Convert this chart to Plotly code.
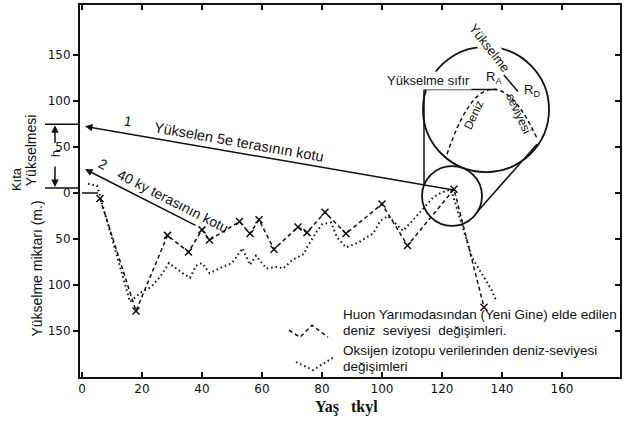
import plotly.graph_objects as go

# ---- data (age in ky, sea level / uplift in m; negative = below present) ----
huon_age = [6, 18, 28.5, 35.5, 40, 42.5, 52.5, 56, 59, 64, 72, 75, 81, 88, 100, 108.5, 124, 134]
huon_level = [-6, -128, -46, -64, -40, -51, -31, -44, -29, -61, -37, -43, -21, -44, -12, -57, 4, -124]

iso_age = [2, 5, 16, 20, 23, 26, 29, 33.5, 36, 38, 40, 42.5, 47, 50, 53.5, 56, 58, 61.5, 65, 67,
           70, 74, 75, 78, 80, 83, 85, 88, 92, 97, 99.5, 102, 104.5, 107, 111, 117, 119.5, 123,
           130, 136.5, 138]
iso_level = [10, 8, -118, -107, -102, -91, -76, -87, -92, -79, -76, -87, -80, -76, -60, -78, -68,
             -82, -80, -82, -73, -66, -59, -43, -34, -32, -48, -59, -54, -44, -30, -25, -33, -41,
             -27, -5, 0, 4, -70, -105, -116]

x_ticks = [0, 20, 40, 60, 80, 100, 120, 140, 160]
y_ticks = [-150, -100, -50, 0, 50, 100, 150]
y_ticklabels = ["150", "100", "50", "0", "50", "100", "150"]

INK = "#111111"
FONT = "Liberation Sans"
TICKFONT = "DejaVu Sans"

# plot-area pixel box (for decorations only)
L, R, T, B = 80, 620, 3, 377
def PX(x):
    return (x - L) / (R - L)
def PY(y):
    return (B - y) / (B - T)

fig = go.Figure()
fig.add_trace(go.Scatter(
    x=iso_age, y=iso_level, mode="lines",
    line=dict(color=INK, width=2, dash="1.5px,3px"),
    hoverinfo="skip", showlegend=False))
fig.add_trace(go.Scatter(
    x=huon_age, y=huon_level, mode="lines+markers",
    line=dict(color=INK, width=1.5, dash="4px,3px"),
    marker=dict(symbol="x-thin", size=7, line=dict(color=INK, width=1.5)),
    hoverinfo="skip", showlegend=False))
# dummy trace for right-hand inside ticks
fig.add_trace(go.Scatter(x=[None], y=[None], yaxis="y2", showlegend=False, hoverinfo="skip"))

fig.update_layout(
    width=626, height=425,
    margin=dict(l=L, r=626 - R, t=T, b=425 - B),
    paper_bgcolor="white", plot_bgcolor="white",
    font=dict(family=FONT, color=INK),
    xaxis=dict(range=[-2 / 3, 179.33], tickvals=x_ticks, ticks="inside", ticklen=5,
               tickwidth=1.5, tickcolor=INK, showline=True, linewidth=2, linecolor=INK,
               mirror="ticks", showgrid=False, zeroline=False,
               tickfont=dict(size=12, family=TICKFONT, color=INK)),
    yaxis=dict(range=[-199.6, 203.9], tickvals=y_ticks, ticktext=y_ticklabels, ticks="outside",
               ticklen=5, tickwidth=1.5, tickcolor=INK, showline=True, linewidth=2,
               linecolor=INK, mirror=True, showgrid=False, zeroline=False,
               tickfont=dict(size=12, family=TICKFONT, color=INK)),
    yaxis2=dict(range=[-199.6, 203.9], overlaying="y", side="right", tickvals=y_ticks,
                ticks="inside", ticklen=5, tickwidth=1.5, tickcolor=INK,
                showticklabels=False, showgrid=False, zeroline=False, showline=False),
)

shapes = []
anns = []

def line(x0, y0, x1, y1, w=1.5, dash=None):
    d = dict(type="line", xref="paper", yref="paper", x0=PX(x0), y0=PY(y0), x1=PX(x1), y1=PY(y1),
             line=dict(color=INK, width=w))
    if dash:
        d["line"]["dash"] = dash
    shapes.append(d)

def text(t, x, y, size=12, angle=0, xanchor="center", bg=None, family=FONT):
    a = dict(text=t, xref="paper", yref="paper", x=PX(x), y=PY(y), showarrow=False,
             textangle=angle, xanchor=xanchor, yanchor="middle",
             font=dict(size=size, family=family, color=INK))
    if bg:
        a["bgcolor"] = bg
    anns.append(a)

def arrow(hx, hy, tx, ty, w=1.5):
    anns.append(dict(text="", xref="paper", yref="paper", x=PX(hx), y=PY(hy),
                     ax=tx - hx, ay=ty - hy, showarrow=True, arrowhead=2, arrowsize=1,
                     arrowwidth=w, arrowcolor=INK))

# arrows to left axis
arrow(85, 125, 455, 189)
arrow(85, 168, 197, 225)
text("1", 128, 120, 14, angle=10)
text("Yükselen 5e terasının kotu", 239, 141, 14.5, angle=10)
text("2", 103, 163, 14, angle=27)
text("40 ky terasının kotu", 173, 200, 14, angle=27)

# h bracket
line(45, 123, 80, 123)
line(45, 187, 80, 187)
line(82, 192, 98, 192)
arrow(55, 124, 55, 143)
arrow(55, 186, 55, 164)
text("h", 55, 153, 13, angle=-90)

# y-axis labels
text("Kıta", 16, 178, 13, angle=-90)
text("Yükselmesi", 31, 149, 14, angle=-90)
text("Yükselme miktarı (m.)", 37, 268, 14, angle=-90)

# x-axis title
text("<b>Yaş   tkyl</b>", 346, 407, 16, family="Liberation Serif")

# inset circles
shapes.append(dict(type="circle", xref="paper", yref="paper", x0=PX(422), x1=PX(482),
                   y0=PY(165), y1=PY(225), line=dict(color=INK, width=1.8)))
shapes.append(dict(type="circle", xref="paper", yref="paper", x0=PX(423), x1=PX(549),
                   y0=PY(45), y1=PY(171), line=dict(color=INK, width=1.8)))
line(424, 88, 424, 183)
line(537, 143, 478, 210)
line(424, 88, 497, 88)
line(468, 31, 518, 90)

# dashed 'sea level' arc inside big circle
ax0, ay0 = 447, 153
ax1, ay1 = 537, 137
cx, cy = 488, 31
shapes.append(dict(type="path", xref="paper", yref="paper",
                   path=f"M {PX(ax0)},{PY(ay0)} Q {PX(cx)},{PY(cy)} {PX(ax1)},{PY(ay1)}",
                   line=dict(color=INK, width=1.5, dash="4px,3px")))

text("Yükselme sıfır", 428, 79, 13, bg="white")
text("Yükselme", 489, 46, 13, angle=52, bg="white")
text("R<sub>A</sub>", 494, 76, 13)
text("R<sub>D</sub>", 532, 89, 13)
text("Deniz", 474, 114, 12, angle=-65)
text("seviyesi", 518, 112, 12, angle=65)

# legend
shapes.append(dict(type="path", xref="paper", yref="paper",
                   path=f"M {PX(289)},{PY(330)} L {PX(300)},{PY(337)} L {PX(312)},{PY(325)} L {PX(328)},{PY(337)}",
                   line=dict(color=INK, width=1.5, dash="4px,3px")))
shapes.append(dict(type="path", xref="paper", yref="paper",
                   path=f"M {PX(296)},{PY(362)} L {PX(313)},{PY(370)} L {PX(334)},{PY(357)}",
                   line=dict(color=INK, width=2, dash="1.5px,3px")))
text("Huon Yarımodasından (Yeni Gine) elde edilen", 341, 314, 13.5, xanchor="left")
text("deniz  seviyesi  değişimleri.", 341, 330, 13.5, xanchor="left")
text("Oksijen izotopu verilerinden deniz-seviyesi", 341, 350, 13.5, xanchor="left")
text("değişimleri", 341, 366, 13.5, xanchor="left")

fig.update_layout(shapes=shapes, annotations=anns)
fig.write_html("out.html", config={"displayModeBar": False},
               post_script="document.body.style.margin='0';")
